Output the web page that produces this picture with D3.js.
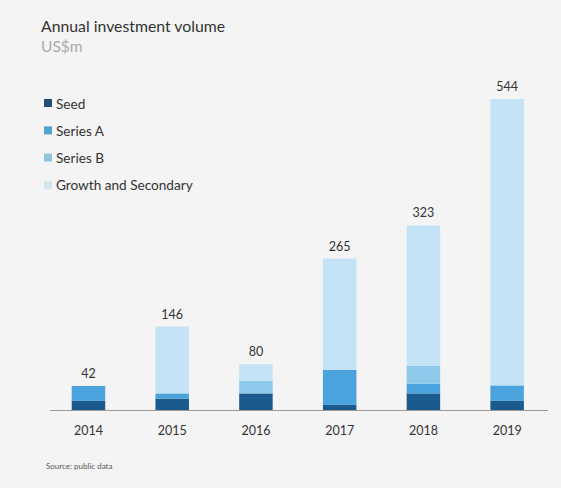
<!DOCTYPE html>
<html><head><meta charset="utf-8">
<script src="https://cdn.jsdelivr.net/npm/d3@7"></script>
<style>
html,body{margin:0;padding:0;background:#f4f4f4;}
svg{display:block;font-family:Lato, "Open Sans", sans-serif;}
</style></head>
<body>
<script>
const years = ["2014","2015","2016","2017","2018","2019"];
const seriesNames = ["Seed","Series A","Series B","Growth and Secondary"];
const seed =   [16, 20, 29, 9, 29, 16];
const seriesA = [26, 9, 0, 61, 17, 27];
const seriesB = [0, 0, 22, 0, 31, 0];
const growth = [0, 117, 29, 195, 246, 501];
const totals = [42, 146, 80, 265, 323, 544];
const colors = ["#1b5a8c","#4aa3dd","#8ec9ec","#c5e3f6"];
const legendColors = ["#1f4f78","#4da6cf","#93c6de","#d3e6f1"];

const W = 561, H = 488;
const svg = d3.select("body").append("svg").attr("width", W).attr("height", H);
svg.append("rect").attr("width", W).attr("height", H).attr("fill", "#f4f4f4");

const rows = years.map((y, i) => ({year: y, "Seed": seed[i], "Series A": seriesA[i], "Series B": seriesB[i], "Growth and Secondary": growth[i], total: totals[i]}));
const stack = d3.stack().keys(seriesNames)(rows);

const x = d3.scaleBand().domain(years).range([46.6, 549]).paddingInner(0.6).paddingOuter(0.3);
const y = d3.scaleLinear().domain([0, 544]).range([410, 99]);

const g = svg.append("g");
stack.forEach((layer, li) => {
  g.selectAll(null).data(layer).enter().append("rect")
    .attr("x", d => x(d.data.year))
    .attr("width", x.bandwidth())
    .attr("y", d => y(d[1]))
    .attr("height", d => y(d[0]) - y(d[1]))
    .attr("fill", colors[li]);
});

// baseline axis
const xAxis = d3.axisBottom(x).tickSize(0).tickPadding(16);
const ax = svg.append("g").attr("transform", "translate(0,410)").call(xAxis);
ax.select(".domain").attr("d", "M50,0.5H548").attr("stroke", "#9a9a9a").attr("stroke-width", 1.2);
ax.selectAll("text").attr("font-size", 12.5).attr("fill", "#333").attr("font-family", "Lato, sans-serif");

// value labels
svg.selectAll(".val").data(rows).enter().append("text")
  .attr("x", d => x(d.year) + x.bandwidth() / 2)
  .attr("y", d => y(d.total) - 8)
  .attr("text-anchor", "middle")
  .attr("font-size", 12.5).attr("fill", "#333")
  .text(d => d.total);

// title
svg.append("text").attr("x", 41).attr("y", 32).attr("font-size", 15.8).attr("fill", "#333").text("Annual investment volume");
svg.append("text").attr("x", 41).attr("y", 52).attr("font-size", 15.5).attr("fill", "#aaa").text("US$m");

// legend
const leg = svg.append("g");
seriesNames.forEach((n, i) => {
  const ly = 104 + i * 27.3;
  leg.append("rect").attr("x", 44).attr("y", ly - 5).attr("width", 8).attr("height", 8).attr("fill", legendColors[i]);
  leg.append("text").attr("x", 56).attr("y", ly + 4.5).attr("font-size", 13.6).attr("fill", "#333").text(n);
});

svg.append("text").attr("x", 46).attr("y", 469).attr("font-size", 8).attr("fill", "#555").text("Source: public data");
</script>
</body></html>
